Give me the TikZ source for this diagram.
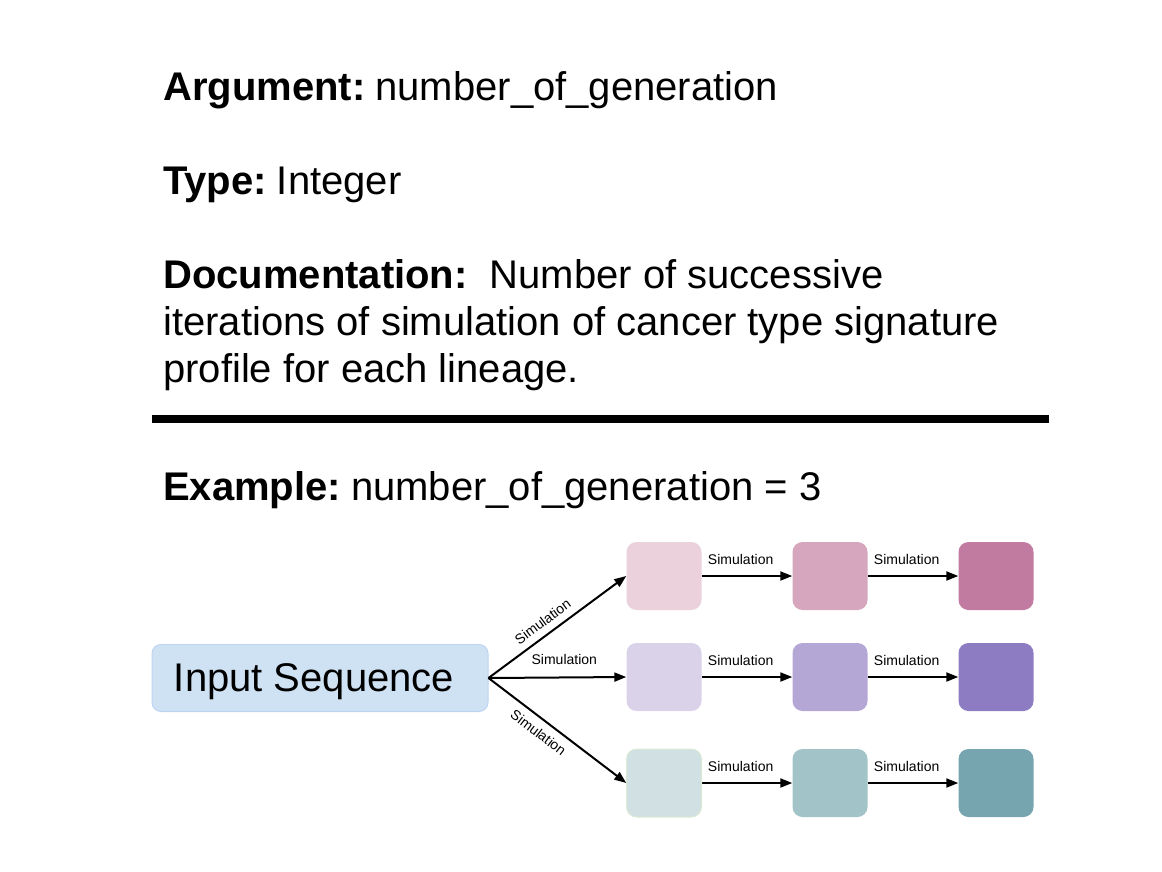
\documentclass[tikz,border=0pt]{standalone}
\usepackage{fontspec}
\setmainfont{Liberation Sans}
\usetikzlibrary{positioning,arrows.meta}

% sheet palette
\definecolor{inblue}{HTML}{CFE2F3}
\definecolor{inedge}{HTML}{BDD5F1}
\definecolor{magA}{HTML}{EAD1DC}
\definecolor{magB}{HTML}{D5A6BD}
\definecolor{magC}{HTML}{C27BA0}
\definecolor{purA}{HTML}{D9D2E9}
\definecolor{purB}{HTML}{B4A7D6}
\definecolor{purC}{HTML}{8E7CC3}
\definecolor{cynA}{HTML}{D0E0E3}
\definecolor{cynB}{HTML}{A2C4C9}
\definecolor{cynC}{HTML}{76A5AF}
\definecolor{grnedge}{HTML}{DCEBD5}

\tikzset{
  doctext/.style={font=\fontsize{40}{47}\selectfont, inner sep=0pt, anchor=base west},
  inbox/.style={fill=inblue, draw=inedge, line width=1pt, rounded corners=9pt,
    minimum width=336pt, minimum height=67pt, text depth=0pt, font=\fontsize{40}{44}\selectfont},
  genbox/.style={rounded corners=10pt, minimum width=75pt, minimum height=68pt, inner sep=0pt},
  simarrow/.style={-{Triangle[length=12pt,width=9pt]}, line width=2pt},
  simlabel/.style={font=\fontsize{14}{16}\selectfont, inner sep=0pt}
}

\begin{document}
\begin{tikzpicture}[x=1pt,y=-1pt]
  \useasboundingbox (0,0) rectangle (1162,871);
  % argument sheet
  \node[doctext] (arg) at (163,100) {\textbf{Argument:}\hspace{10pt}number\_of\_generation};
  \node[doctext] (type) at (163,194) {\textbf{Type:}\hspace{10pt}Integer};
  \node[doctext, anchor=north west, align=left] (doc) at (163,259)
    {\textbf{Documentation:}~~Number of successive\\
     iterations of simulation of cancer type signature\\
     profile for each lineage.};
  \draw[line width=8pt] (152,419) -- (1049,419);
  \node[doctext] (ex) at (163,500) {\textbf{Example:}\hspace{10pt}number\_of\_generation = 3};

  % lineages: three generations each
  \node[inbox] (input) at (320,678) {Input Sequence\hspace*{12pt}};
  \foreach \r/\y/\ca/\cb/\cc in {1/576/magA/magB/magC, 2/677/purA/purB/purC, 3/783/cynA/cynB/cynC}{
    \node[genbox, fill=\ca] (g\r1) at (664,\y) {};
    \node[genbox, fill=\cb] (g\r2) at (830,\y) {};
    \node[genbox, fill=\cc] (g\r3) at (996,\y) {};
    \draw[simarrow] (g\r1) -- node[simlabel, above=10pt, pos=0.43]{Simulation} (g\r2);
    \draw[simarrow] (g\r2) -- node[simlabel, above=10pt, pos=0.43]{Simulation} (g\r3);
  }
  \node[genbox, draw=grnedge, line width=1pt] at (g31) {};
  \draw[simarrow] (input.east) -- node[simlabel, sloped, above=7pt, pos=0.45]{Simulation} (g11.west);
  \draw[simarrow] (input.east) -- node[simlabel, above=12pt, pos=0.55]{Simulation} (g21.west);
  \draw[simarrow] (input.east) -- node[simlabel, sloped, below=7pt, pos=0.42]{Simulation} (g31.west);
\end{tikzpicture}
\end{document}
